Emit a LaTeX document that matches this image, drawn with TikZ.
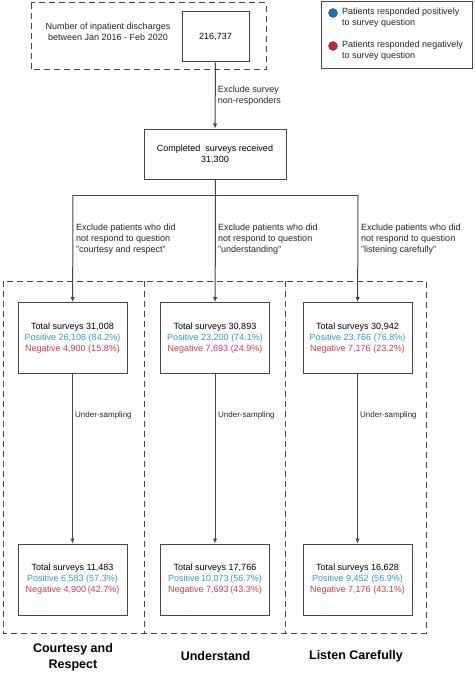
\documentclass[tikz,border=0pt]{standalone}
\usepackage{fontspec}
\setmainfont{Liberation Sans}
\usetikzlibrary{arrows.meta}
\definecolor{linegray}{RGB}{70,70,70}
\definecolor{posblue}{RGB}{55,150,205}
\definecolor{negred}{RGB}{210,60,85}
\definecolor{dotblue}{RGB}{30,115,175}
\definecolor{dotred}{RGB}{195,35,60}
\tikzset{
  box/.style={draw=linegray,line width=1pt,align=center,inner sep=0pt,
    minimum width=109pt,minimum height=71pt,font=\fontsize{9}{11}\selectfont},
  lbl/.style={anchor=west,align=left,inner sep=0pt,text=black!85,
    font=\fontsize{9}{11}\selectfont},
  title/.style={align=center,inner sep=0pt,font=\fontsize{12.5}{16}\selectfont\bfseries},
  dash box/.style={draw=linegray,line width=1pt,dash pattern=on 6pt off 4pt},
  flow/.style={draw=linegray,line width=1pt,-{Latex[length=5pt,width=4.5pt]}},
  dot/.style={circle,draw=black!70,minimum size=9pt,inner sep=0pt}
}
\begin{document}
\begin{tikzpicture}[x=1pt,y=-1pt]
\useasboundingbox (0,0) rectangle (474,674);
\fontsize{9}{11}\selectfont

% top: discharges
\draw[dash box] (31,3) rectangle (266,70);
\node[lbl,anchor=center,align=center] (period) at (108,32)
  {Number of inpatient discharges\\between Jan 2016 - Feb 2020};
\node[box,minimum width=67pt,minimum height=50pt] (disch) at (215.5,37) {216,737};

% legend
\draw[draw=linegray,line width=1pt] (321,2) rectangle (472,69);
\node[dot,fill=dotblue] (dpos) at (333,13) {};
\node[lbl] (lpos) at (342,17.5) {Patients responded positively\\to survey question};
\node[dot,fill=dotred] (dneg) at (333,46) {};
\node[lbl] (lneg) at (342,50.5) {Patients responded negatively\\to survey question};

% completed surveys
\node[box,minimum width=142pt,minimum height=50pt] (done) at (215,154)
  {Completed\ \ surveys received\\31,300};
\path[flow] (disch) -- node[lbl,right=2pt] {Exclude survey\\non-responders} (done);

% split
\coordinate (split) at (215.5,195);
\coordinate (s1) at (73,195);
\coordinate (s2) at (215.5,195);
\coordinate (s3) at (358,195);
\path[draw=linegray,line width=1pt] (done) -- (split);
\path[draw=linegray,line width=1pt] (s1) -- (s3);

% columns
\draw[dash box] (3,281) rectangle (426,633);
\path[dash box] (144,281) -- (144,633);
\path[dash box] (285,281) -- (285,633);

\begin{scope}[shift={(0,0)}]
\node[box] (all1) at (72.5,338) {Total surveys 31,008\\
  \textcolor{posblue}{Positive 26,108 (84.2\%)}\\
  \textcolor{negred}{Negative 4,900 (15.8\%)}};
\node[box] (us1) at (72.5,579.5) {Total surveys 11,483\\
  \textcolor{posblue}{Positive 6,583 (57.3\%)}\\
  \textcolor{negred}{Negative 4,900\,(42.7\%)}};
\path[flow] (s1) -- (all1);
\node[lbl] (q1) at (76,239) {Exclude patients who did\\not respond to question\\"courtesy and respect"};
\path[flow] (all1) -- (us1);
\node[lbl,font=\fontsize{8}{10}\selectfont] (u1) at (75,415) {Under-sampling};
\node[title] (t1) at (73,657) {Courtesy and\\Respect};
\end{scope}

\begin{scope}[shift={(142.5,0)}]
\node[box] (all2) at (72.5,338) {Total surveys\ 30,893\\
  \textcolor{posblue}{Positive 23,200 (74.1\%)}\\
  \textcolor{negred}{Negative 7,693 (24.9\%)}};
\node[box] (us2) at (72.5,579.5) {Total surveys 17,766\\
  \textcolor{posblue}{Positive\,10,073\,(56.7\%)}\\
  \textcolor{negred}{Negative 7,693\,(43.3\%)}};
\path[flow] (s2) -- (all2);
\node[lbl] (q2) at (75.5,239) {Exclude patients who did\\not respond to question\\"understanding"};
\path[flow] (all2) -- (us2);
\node[lbl,font=\fontsize{8}{10}\selectfont] (u2) at (75.5,415) {Under-sampling};
\node[title] (t2) at (73,656) {Understand};
\end{scope}

\begin{scope}[shift={(285,0)}]
\node[box] (all3) at (72.5,338) {Total surveys 30,942\\
  \textcolor{posblue}{Positive 23,766 (76.8\%)}\\
  \textcolor{negred}{Negative 7,176 (23.2\%)}};
\node[box] (us3) at (72.5,579.5) {Total surveys 16,628\\
  \textcolor{posblue}{Positive 9,452 (56.9\%)}\\
  \textcolor{negred}{Negative 7,176 (43.1\%)}};
\path[flow] (s3) -- (all3);
\node[lbl] (q3) at (76,239) {Exclude patients who did\\not respond to question\\"listening carefully"};
\path[flow] (all3) -- (us3);
\node[lbl,font=\fontsize{8}{10}\selectfont] (u3) at (75,415) {Under-sampling};
\node[title] (t3) at (71,656) {Listen Carefully};
\end{scope}
\end{tikzpicture}
\end{document}
